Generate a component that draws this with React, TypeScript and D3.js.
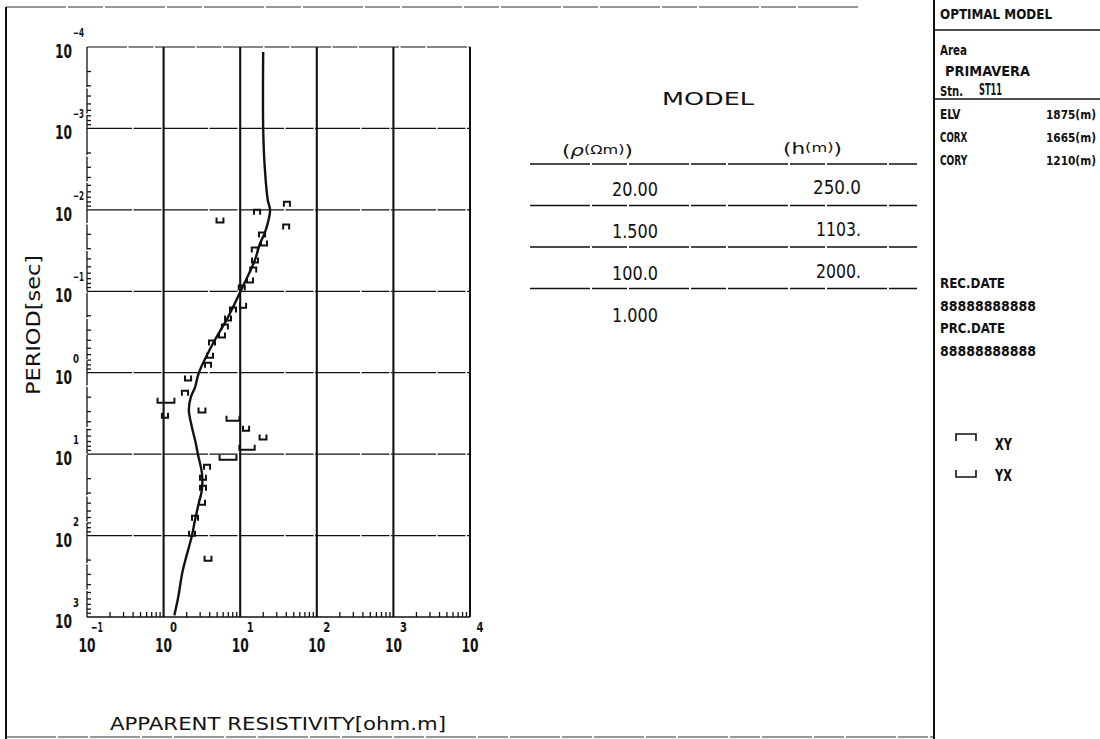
import React from 'react';
import * as d3 from 'd3';

// ---------- DATA ----------
const periodExponents = [-4, -3, -2, -1, 0, 1, 2, 3];
const rhoExponents = [-1, 0, 1, 2, 3, 4];

// model response curve (log10 period [s], log10 apparent resistivity [ohm.m])
const curveLogPeriod = [-3.94, -3.0, -2.53, -2.12, -2.0, -1.875, -1.715, -1.59, -1.38, -0.99, -0.68, -0.36, 0.0, 0.18, 0.3, 0.46, 0.67, 0.865, 1.01, 1.23, 1.44, 1.6, 1.81, 2.0, 2.43, 2.76, 2.98];
const curveLogRho = [1.3, 1.3, 1.32, 1.36, 1.39, 1.37, 1.32, 1.26, 1.19, 1.0, 0.84, 0.645, 0.46, 0.41, 0.355, 0.33, 0.37, 0.42, 0.45, 0.5, 0.5, 0.46, 0.41, 0.37, 0.25, 0.19, 0.14];

// XY observations
const xyLogPeriod = [-2.07, -1.79, -1.97, -1.69, -1.506, -1.26, -1.039, -0.769, -0.56, -0.364, -0.093, 0.251, 1.16, 1.418, 1.786];
const xyLogRho = [1.61, 1.6, 1.22, 1.285, 1.19, 1.17, 1.02, 0.906, 0.8, 0.632, 0.58, 0.279, 0.567, 0.514, 0.41];
const xyLogErr = [0.03, 0.03, 0.04, 0.04, 0.03, 0.03, 0.03, 0.03, 0.03, 0.03, 0.03, 0.04, 0.03, 0.03, 0.03];

// YX observations
const yxLogPeriod = [-1.875, -1.592, -1.383, -1.138, -0.83, -0.671, -0.462, -0.216, 0.066, 0.337, 0.521, 0.459, 0.558, 0.681, 0.791, 0.914, 1.037, 1.283, 1.59, 1.971, 2.278];
const yxLogRho = [0.736, 1.311, 1.193, 1.128, 1.037, 0.841, 0.762, 0.606, 0.319, 0.031, 0.018, 0.501, 0.906, 1.076, 1.298, 1.089, 0.841, 0.514, 0.501, 0.371, 0.58];
const yxLogErr = [0.045, 0.03, 0.03, 0.03, 0.04, 0.03, 0.03, 0.03, 0.04, 0.11, 0.04, 0.045, 0.085, 0.04, 0.045, 0.1, 0.11, 0.03, 0.03, 0.03, 0.045];

// layered model table
const modelRho = ['20.00', '1.500', '100.0', '1.000'];
const modelThickness = ['250.0', '1103.', '2000.'];

// station info
const areaName = 'PRIMAVERA';
const stationName = 'ST11';
const infoLabels = ['ELV', 'CORX', 'CORY'];
const infoValues = ['1875(m)', '1665(m)', '1210(m)'];

// ---------- STYLE ----------
const NARROW = "'Liberation Sans Narrow', 'DejaVu Sans Condensed', 'Liberation Sans', Arial, sans-serif";
const PLOT = "'DejaVu Sans', 'Liberation Sans', sans-serif";
const INK = '#111';

const W = 1100;
const H = 739;

function Txt(props: any) {
  const { x, y, children, size = 14, anchor = 'start', weight = 'normal', family = NARROW, len, ...rest } = props;
  return (
    <text
      x={x}
      y={y}
      fontSize={size}
      textAnchor={anchor}
      fontWeight={weight}
      fontFamily={family}
      dominantBaseline="central"
      fill={INK}
      {...(len ? { textLength: len, lengthAdjust: 'spacingAndGlyphs' } : {})}
      {...rest}
    >
      {children}
    </text>
  );
}

export default function App() {
  const x = d3.scaleLog().domain([1e-1, 1e4]).range([87, 470]);
  const y = d3.scaleLog().domain([1e-4, 1e3]).range([47, 617]);

  const line = d3
    .line<[number, number]>()
    .x((d) => x(10 ** d[1]))
    .y((d) => y(10 ** d[0]))
    .curve(d3.curveCatmullRom.alpha(0.5));
  const curvePts: [number, number][] = curveLogPeriod.map((p, i) => [p, curveLogRho[i]]);

  const minorX: number[] = [];
  rhoExponents.slice(0, -1).forEach((e) => {
    for (let k = 2; k <= 9; k++) minorX.push(k * 10 ** e);
  });
  const minorY: number[] = [];
  periodExponents.slice(0, -1).forEach((e) => {
    for (let k = 2; k <= 9; k++) minorY.push(k * 10 ** e);
  });

  const bracket = (lp: number, lr: number, err: number, open: 'up' | 'down') => {
    const cx = x(10 ** lr);
    const cy = y(10 ** lp);
    const x0 = Math.min(x(10 ** (lr - err)), cx - 3);
    const x1 = Math.max(x(10 ** (lr + err)), cx + 3);
    const h = 2.5;
    if (open === 'up') {
      // YX: └─┘
      return `M${x0},${cy - h}L${x0},${cy + h}L${x1},${cy + h}L${x1},${cy - h}`;
    }
    // XY: ┌─┐
    return `M${x0},${cy + h}L${x0},${cy - h}L${x1},${cy - h}L${x1},${cy + h}`;
  };

  const rowY = (i: number) => 189 + i * 42;
  const lineY = (i: number) => 164 + i * 41.5;

  return (
    <svg
      width={W}
      height={H}
      viewBox={`0 0 ${W} ${H}`}
      style={{ position: 'absolute', left: 0, top: 0, display: 'block', background: '#fff' }}
    >
      <rect x={0} y={0} width={W} height={H} fill="#fff" />

      {/* outer frame */}
      <line x1={6} y1={7} x2={6} y2={739} stroke={INK} strokeWidth={2} />
      <line x1={6} y1={7} x2={860} y2={7} stroke="#333" strokeWidth={1.2} strokeDasharray="60 2 35 2" />
      <line x1={6} y1={737} x2={934} y2={737} stroke="#333" strokeWidth={1.2} strokeDasharray="50 2 30 2" />
      <line x1={934} y1={0} x2={934} y2={H} stroke={INK} strokeWidth={2} />
      <line x1={934} y1={30} x2={W} y2={30} stroke={INK} strokeWidth={1.3} />
      <line x1={934} y1={99} x2={W} y2={99} stroke={INK} strokeWidth={1.3} />

      {/* plot frame */}
      <line x1={x(0.1)} y1={y(1e-4)} x2={x(1e4)} y2={y(1e-4)} stroke={INK} strokeWidth={1.2} strokeDasharray="40 1.5 25 1.5" />
      <line x1={x(0.1)} y1={y(1e3)} x2={x(1e4)} y2={y(1e3)} stroke={INK} strokeWidth={1.4} />
      <line x1={x(0.1)} y1={y(1e-4)} x2={x(0.1)} y2={y(1e3)} stroke={INK} strokeWidth={1.3} strokeDasharray="40 1.5 25 1.5" />
      <line x1={x(1e4)} y1={y(1e-4)} x2={x(1e4)} y2={y(1e3)} stroke={INK} strokeWidth={2} />

      {/* horizontal grid */}
      {periodExponents.slice(1, -1).map((e) => (
        <line key={'hg' + e} x1={x(0.1)} y1={y(10 ** e)} x2={x(1e4)} y2={y(10 ** e)} stroke={INK} strokeWidth={1.2} strokeDasharray="45 1.5 28 1.5" />
      ))}
      {/* vertical grid */}
      {rhoExponents.slice(1, -1).map((e) => (
        <line key={'vg' + e} x1={x(10 ** e)} y1={y(1e-4)} x2={x(10 ** e)} y2={y(1e3)} stroke={INK} strokeWidth={2.1} />
      ))}

      {/* minor ticks */}
      {minorX.map((v, i) => (
        <line key={'mx' + i} x1={x(v)} y1={y(1e3)} x2={x(v)} y2={y(1e3) - 5} stroke={INK} strokeWidth={1.3} />
      ))}
      {minorY.map((v, i) => (
        <line key={'my' + i} x1={x(0.1)} y1={y(v)} x2={x(0.1) + 4} y2={y(v)} stroke={INK} strokeWidth={1.3} />
      ))}

      {/* y tick labels */}
      {periodExponents.map((e) => (
        <g key={'yl' + e}>
          <Txt x={72} y={y(10 ** e) + 4} size={19} anchor="end" weight="bold" len={17}>10</Txt>
          <Txt x={73} y={y(10 ** e) - 14} size={12} weight="bold" len={e < 0 ? 11 : 6}>
            {e < 0 ? '\u2212' + Math.abs(e) : String(e)}
          </Txt>
        </g>
      ))}

      {/* x tick labels */}
      {rhoExponents.map((e) => (
        <g key={'xl' + e}>
          <Txt x={x(10 ** e)} y={645} size={19} anchor="middle" weight="bold" len={17}>10</Txt>
          <Txt x={x(10 ** e) + 10} y={627} size={14} anchor="middle" weight="bold" len={e < 0 ? 12 : 7}>
            {e < 0 ? '\u2212' + Math.abs(e) : String(e)}
          </Txt>
        </g>
      ))}

      {/* axis titles */}
      <Txt x={33} y={325} size={19} anchor="middle" family={PLOT} len={140} transform="rotate(-90 33 325)">
        PERIOD[sec]
      </Txt>
      <Txt x={278} y={723} size={18} anchor="middle" family={PLOT} len={336}>
        APPARENT RESISTIVITY[ohm.m]
      </Txt>

      {/* model curve */}
      <path d={line(curvePts) || ''} fill="none" stroke={INK} strokeWidth={2.4} />

      {/* observations */}
      {xyLogPeriod.map((p, i) => (
        <path key={'xy' + i} d={bracket(p, xyLogRho[i], xyLogErr[i], 'down')} fill="none" stroke={INK} strokeWidth={2} />
      ))}
      {yxLogPeriod.map((p, i) => (
        <path key={'yx' + i} d={bracket(p, yxLogRho[i], yxLogErr[i], 'up')} fill="none" stroke={INK} strokeWidth={2} />
      ))}

      {/* MODEL table */}
      <Txt x={708} y={98} size={18} anchor="middle" family={PLOT} len={92}>MODEL</Txt>
      <text x={562} y={150} dominantBaseline="central" fontFamily={PLOT} fontSize={16} fill={INK} textLength={71} lengthAdjust="spacingAndGlyphs">
        (<tspan fontStyle="italic">ρ</tspan><tspan fontSize={12}>(Ωm)</tspan>)
      </text>
      <text x={783} y={148} dominantBaseline="central" fontFamily={PLOT} fontSize={16} fill={INK} textLength={59} lengthAdjust="spacingAndGlyphs">
        (h<tspan fontSize={12}>(m)</tspan>)
      </text>
      {[0, 1, 2, 3].map((i) => (
        <line key={'tl' + i} x1={530} y1={lineY(i)} x2={917} y2={lineY(i)} stroke={INK} strokeWidth={1.3} strokeDasharray="60 2 35 2" />
      ))}
      {modelRho.map((v, i) => (
        <Txt key={'mr' + i} x={658} y={rowY(i)} size={19} anchor="end" family={NARROW} len={46}>{v}</Txt>
      ))}
      {modelThickness.map((v, i) => (
        <Txt key={'mt' + i} x={861} y={rowY(i) - 2} size={19} anchor="end" family={NARROW} len={v.endsWith('.') ? 45 : 48}>{v}</Txt>
      ))}

      {/* right panel */}
      <Txt x={940} y={14} size={14} weight="bold" len={112}>OPTIMAL MODEL</Txt>
      <Txt x={940} y={50} size={14} weight="bold" len={27}>Area</Txt>
      <Txt x={945} y={71} size={14} weight="bold" len={85}>{areaName}</Txt>
      <Txt x={940} y={91} size={14} weight="bold" len={23}>Stn.</Txt>
      <Txt x={979} y={90} size={15} weight="bold" len={23}>{stationName}</Txt>
      {infoLabels.map((l, i) => (
        <g key={'il' + i}>
          <Txt x={940} y={114 + i * 23} size={14} weight="bold" len={l.length * 6.8}>{l}</Txt>
          <Txt x={1096} y={114 + i * 23} size={13} weight="bold" anchor="end" len={50}>{infoValues[i]}</Txt>
        </g>
      ))}
      <Txt x={940} y={283} size={14} weight="bold" len={65}>REC.DATE</Txt>
      <Txt x={940} y={306} size={14} weight="bold" len={96}>88888888888</Txt>
      <Txt x={940} y={328} size={14} weight="bold" len={65}>PRC.DATE</Txt>
      <Txt x={940} y={351} size={14} weight="bold" len={96}>88888888888</Txt>

      {/* legend */}
      <path d="M956,441L956,434L976,434L976,441" fill="none" stroke={INK} strokeWidth={1.6} />
      <Txt x={995} y={445} size={15} weight="bold" len={17}>XY</Txt>
      <path d="M956,470L956,477L976,477L976,470" fill="none" stroke={INK} strokeWidth={1.6} />
      <Txt x={995} y={476} size={15} weight="bold" len={17}>YX</Txt>
    </svg>
  );
}
